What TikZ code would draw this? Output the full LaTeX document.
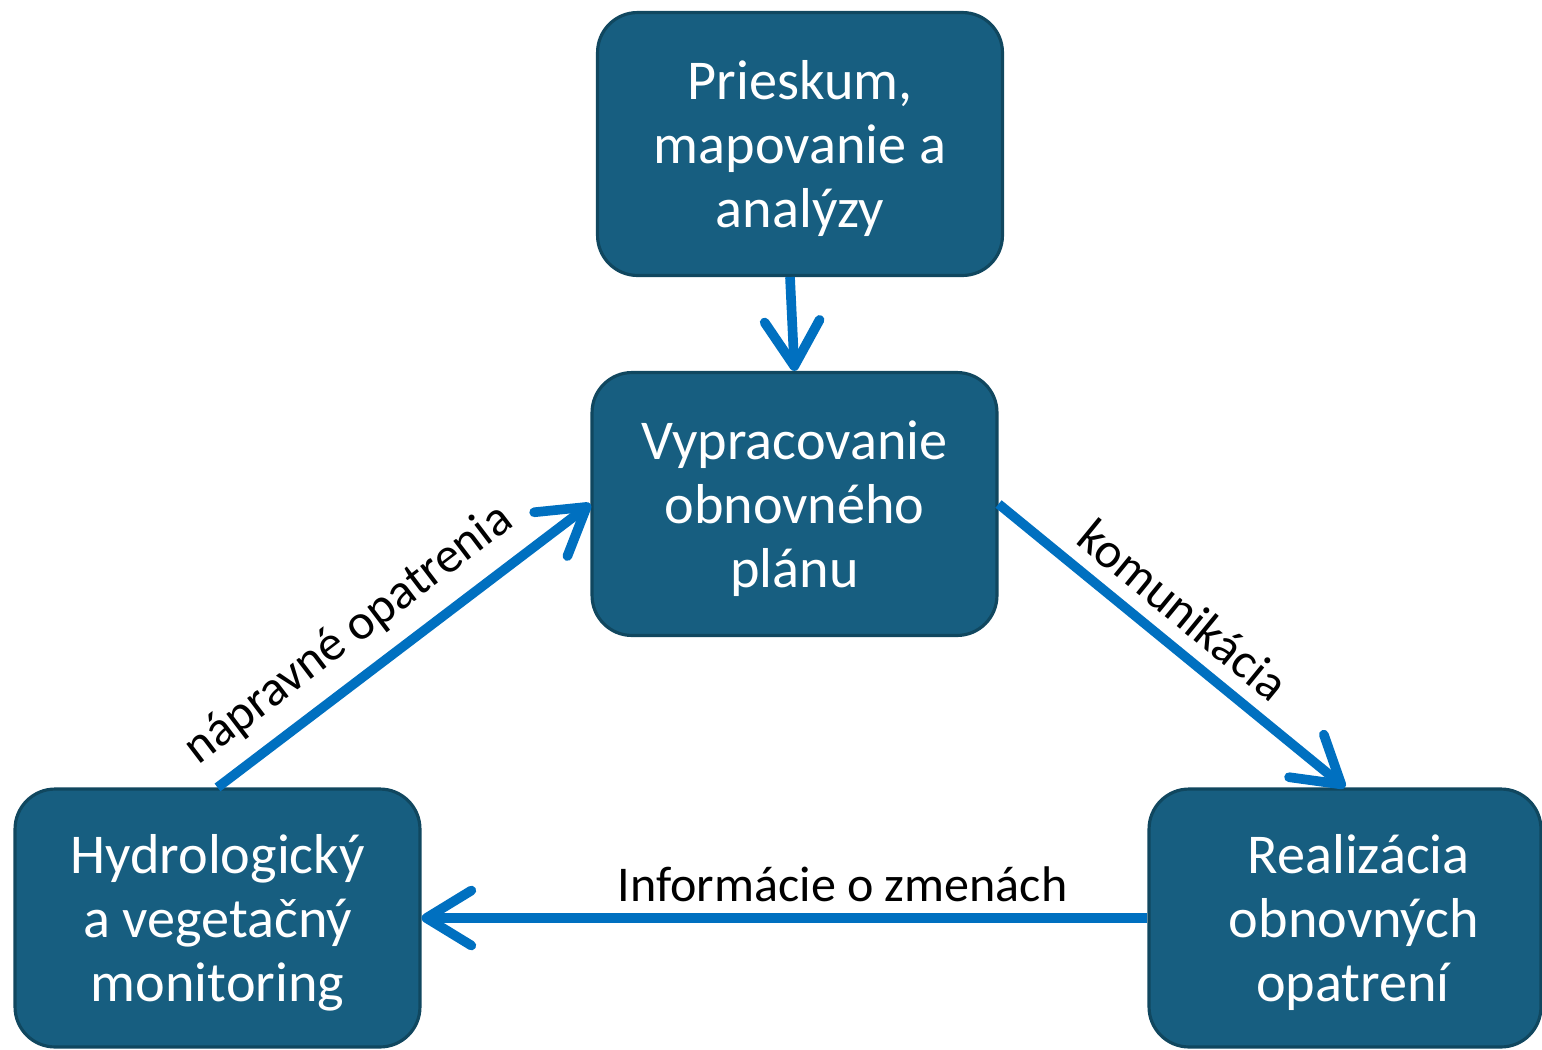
\documentclass[tikz,border=0pt]{standalone}
\usepackage{fontspec}
\setmainfont{Carlito}
\usetikzlibrary{arrows.meta}
\definecolor{boxblue}{HTML}{175E80}
\definecolor{boxedge}{HTML}{10475F}
\definecolor{arrblue}{HTML}{0070C0}
\begin{document}
\begin{tikzpicture}[x=0.02cm, y=-0.02cm,
	stage/.style={draw=boxedge, line width=1.8pt, fill=boxblue,
	rounded corners=0.8cm, text=white, align=center, inner sep=0pt,
	minimum width=8.1cm, minimum height=5.26cm, text depth=0pt,
	font=\fontsize{32}{36.5}\selectfont},
	flow/.style={draw=arrblue, line width=5.5pt,
	-{Straight Barb[length=0.9cm, width=1.1cm, line cap=round, line join=round]}},
	lbl/.style={text=black, font=\fontsize{28.5}{32}\selectfont}]
\useasboundingbox (0,0) rectangle (1542,1049);
\node[stage] (survey) at (800,144) {Prieskum,\\mapovanie a\\analýzy};
\node[stage] (plan) at (794.5,504) {Vypracovanie\\obnovného\\plánu};
\node[stage, minimum height=5.16cm] (monitor) at (217.5,918) {Hydrologický\\a vegetačný\\monitoring};
\node[stage, minimum width=7.84cm, minimum height=5.16cm] (realize) at (1345,918) {\hspace*{0.55cm}Realizácia\\\hspace*{0.36cm}obnovných\\\hspace*{0.32cm}opatrení};
\draw[flow] ([xshift=-0.2cm]survey.south) -- (plan.north);
\draw[flow] (monitor.north) -- node[lbl, sloped, above=0.2cm, pos=0.42] {nápravné opatrenia} (plan.west);
\draw[flow] (plan.east) -- node[lbl, sloped, above=0.14cm, pos=0.47] {komunikácia} (realize.north);
\draw[flow] (realize.west) -- node[lbl, above=0.1cm, pos=0.42] {Informácie o zmenách} (monitor.east);
\end{tikzpicture}
\end{document}
